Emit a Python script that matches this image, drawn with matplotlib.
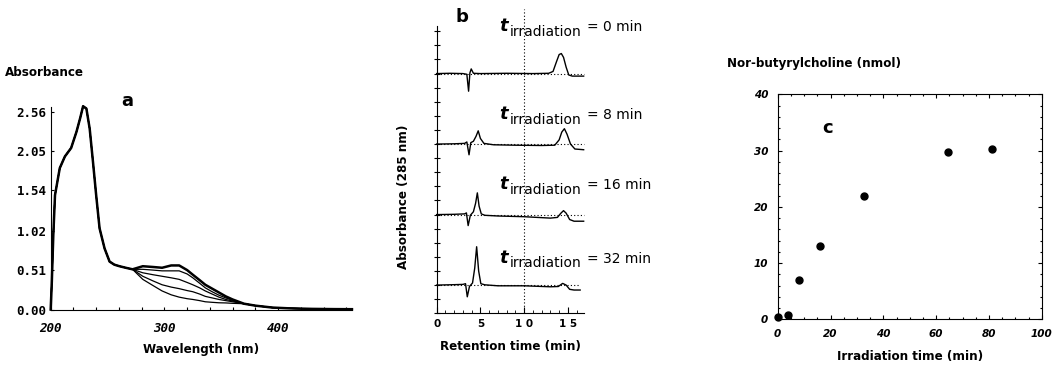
import numpy as np
import matplotlib
matplotlib.use("Agg")
import matplotlib.pyplot as plt
from matplotlib.ticker import MultipleLocator

# ---- panel a: UV spectra during irradiation ----
wavelength = [200, 201, 202.3, 203.8, 208, 212.5, 218, 222.7, 226, 228.5, 231.4, 234.3,
              237.2, 240, 243, 247.4, 251.8, 256, 260.5, 266, 272, 281, 290, 298,
              306, 313, 320, 325, 331, 336, 342, 348, 354, 360, 370, 380, 395, 410,
              430, 450, 465]
shared = [0.0, 0.36, 0.96, 1.48, 1.83, 1.98, 2.09, 2.30, 2.48, 2.63, 2.60, 2.34,
          1.91, 1.48, 1.05, 0.79, 0.62, 0.58, 0.56, 0.54, 0.52]
tail = [0.075, 0.05, 0.025, 0.015, 0.008, 0.005, 0.004]
spec_1 = shared + [0.56, 0.55, 0.54, 0.57, 0.57, 0.51, 0.45, 0.38, 0.32, 0.27, 0.22, 0.17, 0.13] + tail
spec_2 = shared + [0.52, 0.51, 0.50, 0.50, 0.50, 0.46, 0.41, 0.34, 0.28, 0.23, 0.185, 0.15, 0.12] + tail
spec_3 = shared + [0.475, 0.45, 0.43, 0.41, 0.39, 0.35, 0.32, 0.28, 0.24, 0.20, 0.16, 0.13, 0.11] + tail
spec_4 = shared + [0.43, 0.37, 0.32, 0.29, 0.27, 0.245, 0.23, 0.20, 0.17, 0.15, 0.13, 0.115, 0.10] + tail
spec_5 = shared + [0.39, 0.31, 0.24, 0.19, 0.16, 0.14, 0.13, 0.115, 0.10, 0.093, 0.087, 0.085, 0.08] + tail
spectra = [spec_5, spec_4, spec_3, spec_2, spec_1]
abs_ticks = [0.00, 0.51, 1.02, 1.54, 2.05, 2.56]

# ---- panel b: HPLC traces ----
trace_labels = ["0", "8", "16", "32"]
times_0 = [0, 1.5, 3.0, 3.45, 3.65, 3.8, 3.95, 4.2, 5, 8, 11, 12.8, 13.3, 13.7, 14.0, 14.25,
           14.5, 14.8, 15.1, 15.5, 16.8]
signal_0 = [0, 0.02, 0, -0.05, -1.25, 0.05, 0.33, 0.02, 0, 0.02, 0, 0.02, 0.15, 0.85, 1.35,
            1.42, 1.15, 0.45, -0.1, -0.18, -0.18]
times_8 = [0, 2.0, 3.2, 3.45, 3.7, 3.9, 4.2, 4.5, 4.75, 5.0, 5.4, 6.5, 9, 12, 13.5, 14.0,
           14.3, 14.6, 14.9, 15.3, 15.8, 16.8]
signal_8 = [0, 0.02, 0.05, 0.15, -0.76, 0.1, 0.2, 0.55, 0.94, 0.4, 0.05, -0.05, -0.08, -0.1,
            -0.08, 0.3, 0.85, 1.09, 0.7, 0.0, -0.35, -0.4]
times_16 = [0, 2.0, 3.2, 3.4, 3.6, 3.85, 4.2, 4.45, 4.65, 4.85, 5.1, 5.5, 7, 10, 13, 13.8,
            14.2, 14.5, 14.8, 15.2, 15.7, 16.8]
signal_16 = [0, 0.02, 0.05, 0.12, -0.78, -0.05, 0.2, 0.8, 1.54, 0.6, 0.05, -0.05, -0.1, -0.15,
             -0.25, -0.2, 0.1, 0.28, 0.1, -0.35, -0.47, -0.47]
times_32 = [0, 2.0, 3.0, 3.3, 3.5, 3.75, 4.1, 4.35, 4.57, 4.8, 5.05, 5.5, 7, 10, 13, 13.9,
            14.4, 14.8, 15.2, 15.7, 16.4]
signal_32 = [0, 0.03, 0.05, 0.1, -0.83, -0.1, 0.15, 1.2, 2.72, 1.0, 0.1, 0.02, -0.05, -0.05,
             -0.12, -0.1, 0.12, 0.0, -0.3, -0.35, -0.35]
traces = [(times_0, signal_0), (times_8, signal_8), (times_16, signal_16), (times_32, signal_32)]
baselines = [17, 12, 7, 2]
label_heights = [20.0, 13.75, 8.78, 3.6]

# ---- panel c: product formation ----
irr_time = [0, 4, 8, 16, 32.5, 64.5, 81]
nor_butyrylcholine = [0.4, 0.8, 7.0, 13.0, 22.0, 29.8, 30.2]

label_font = dict(family="DejaVu Sans", weight="bold", stretch="condensed", size=9.5)
tick_font = dict(family="DejaVu Sans", weight="bold", size=7.5)

fig = plt.figure(figsize=(10.56, 3.72), dpi=100)

# panel a
ax1 = fig.add_axes([0.048, 0.168, 0.2853, 0.5527])
for i, s in enumerate(spectra):
    ax1.plot(wavelength, s, color="black", lw=1.8 if i == len(spectra) - 1 else 0.9, clip_on=False)
ax1.set_xlim(200, 465)
ax1.set_ylim(0, 2.66)
ax1.spines[["top", "right"]].set_visible(False)
ax1.spines["left"].set_bounds(0, 2.62)
ax1.set_xticks([200, 300, 400])
ax1.xaxis.set_minor_locator(MultipleLocator(20))
ax1.set_yticks(abs_ticks)
ax1.set_yticklabels([f"{v:.2f}" for v in abs_ticks], family="DejaVu Sans Mono", weight="bold", size=9)
ax1.set_xticklabels(["200", "300", "400"], family="DejaVu Sans Mono", weight="bold",
                    style="italic", size=9)
ax1.tick_params(axis="both", which="both", direction="in", length=2.5, width=0.8)
ax1.tick_params(axis="x", pad=9)
ax1.tick_params(axis="y", pad=3)
ax1.set_xlabel("Wavelength (nm)", labelpad=6, **label_font)
fig.text(0.005, 1 - 73 / 372, "Absorbance", va="center", ha="left", **label_font)
fig.text(121 / 1056, 1 - 101 / 372, "a", va="center", ha="left", weight="bold", size=13)

# panel b
ax2 = fig.add_axes([0.4135, 0.1578, 0.1392, 0.8188])
for (t, s), base, lab, ly in zip(traces, baselines, trace_labels, label_heights):
    ax2.plot(t, np.array(s) + base, color="black", lw=1.0, clip_on=False)
    ax2.plot([0, t[-1]], [base, base], color="black", lw=0.8, ls=(0, (1, 2)), clip_on=False)
    ax2.text(7.1, ly, "t", style="italic", weight="bold", size=13, ha="left", va="baseline",
             clip_on=False)
    ax2.text(8.3, ly - 0.35, "irradiation", size=10, ha="left", va="baseline", clip_on=False)
    ax2.text(17.2, ly, "= " + lab + " min", size=10, ha="left", va="baseline", clip_on=False)
ax2.axvline(10, ymin=0, ymax=1, color="black", lw=0.8, ls=(0, (1, 2)), clip_on=False)
ax2.set_xlim(0, 16.8)
ax2.set_ylim(0, 21.6)
ax2.spines[["top", "right"]].set_visible(False)
ax2.spines["left"].set_bounds(0, 20.4)
ax2.set_xticks([0, 5, 10, 15])
ax2.set_xticklabels(["0", "5", "1 0", "1 5"], **tick_font)
ax2.xaxis.set_minor_locator(MultipleLocator(1))
ax2.set_yticks(np.arange(0, 21, 1))
ax2.set_yticklabels([])
ax2.tick_params(axis="y", direction="inout", length=5, width=0.8)
ax2.tick_params(axis="x", which="major", direction="in", length=4, width=0.8, pad=4)
ax2.tick_params(axis="x", which="minor", direction="in", length=2, width=0.6)
ax2.set_xlabel("Retention time (min)", labelpad=8, **label_font)
ax2.set_ylabel("Absorbance (285 nm)", **label_font)
ax2.yaxis.set_label_coords(-0.18, 0.382)
ax2.text(2.9, 21.0, "b", weight="bold", size=13, ha="center", va="center", clip_on=False)

# panel c
ax3 = fig.add_axes([0.7365, 0.1417, 0.25, 0.6048])
ax3.plot(irr_time, nor_butyrylcholine, "o", color="black", markersize=5, clip_on=False)
ax3.set_xlim(0, 100)
ax3.set_ylim(0, 40)
ax3.set_xticks(range(0, 101, 20))
ax3.set_yticks(range(0, 41, 10))
ax3.xaxis.set_minor_locator(MultipleLocator(5))
ax3.yaxis.set_minor_locator(MultipleLocator(2))
ax3.set_xticklabels([str(v) for v in range(0, 101, 20)], style="italic", **tick_font)
ax3.set_yticklabels([str(v) for v in range(0, 41, 10)], style="italic", **tick_font)
ax3.tick_params(axis="both", which="both", direction="in", top=True, right=True, width=0.8)
ax3.tick_params(axis="both", which="major", length=3, pad=7)
ax3.tick_params(axis="both", which="minor", length=1.5)
ax3.set_xlabel("Irradiation time (min)", labelpad=8, **label_font)
ax3.text(19, 34, "c", weight="bold", size=13, ha="center", va="center")
fig.text(727 / 1056, 1 - 63 / 372, "Nor-butyrylcholine (nmol)", va="center", ha="left", **label_font)

fig.savefig("out.png", dpi=100, facecolor="white")
